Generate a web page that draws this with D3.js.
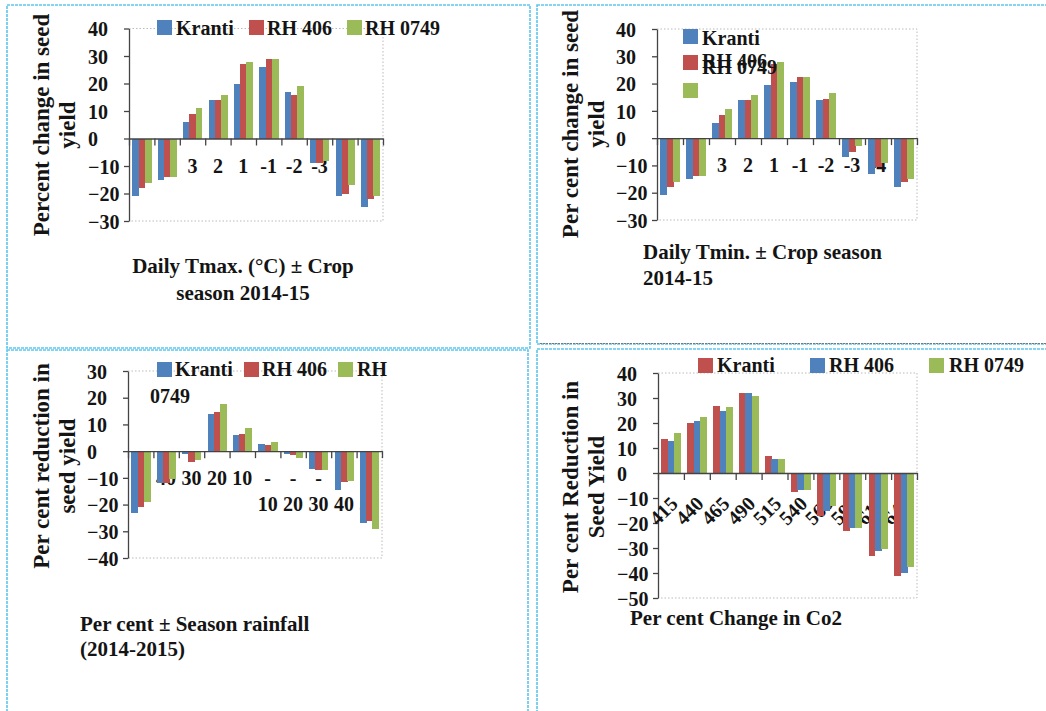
<!DOCTYPE html>
<html lang="en">
<head>
    <meta charset="UTF-8">
    <title>Per cent change in seed yield</title>
    <script src="https://d3js.org/d3.v7.min.js"></script>
    <style>
        body { margin: 0; background: #fff; }
        svg { display: block; }
        text { font-family: "Liberation Serif", "Times New Roman", serif; font-weight: bold; fill: #141414; }
        .axis path, .axis line { stroke: #444; stroke-width: 1.3px; }
        .bar { shape-rendering: crispEdges; }
    </style>
</head>
<body>
<svg width="1046" height="711"></svg>
<script>
    // ---- data ----
    const series3 = ["Kranti", "RH 406", "RH 0749"];

    const tempCats = ["5", "4", "3", "2", "1", "-1", "-2", "-3", "-4", "-5"];
    const tmaxKranti = [-21, -15, 6, 14, 20, 26, 17, -9, -21, -25];
    const tmaxRH406  = [-18, -14, 9, 14, 27, 29, 16, -9, -20, -22];
    const tmaxRH0749 = [-16, -14, 11, 16, 28, 29, 19, -8, -17, -21];

    const tminKranti = [-21, -15, 5.5, 14, 19.5, 20.5, 14, -7, -13, -18];
    const tminRH406  = [-18, -14, 8.5, 14, 27, 22.5, 14.5, -5, -10.5, -16];
    const tminRH0749 = [-16, -14, 10.7, 15.7, 27.8, 22.5, 16.7, -3, -9, -15];

    const rainCats = ["50", "40", "30", "20", "10", "-10", "-20", "-30", "-40", "-50"];
    const rainKranti = [-23, -12, -1, 14, 6, 2.8, -1, -6.5, -14.6, -27];
    const rainRH406  = [-21, -12, -4, 14.5, 6.3, 2.3, -1.6, -7.1, -11.6, -26];
    const rainRH0749 = [-19, -10.5, -3.5, 17.5, 8.8, 3.5, -2.5, -6.9, -11, -29];

    const co2Cats = ["415", "440", "465", "490", "515", "540", "565", "590", "615", "640"];
    const co2Kranti = [13.7, 20, 27, 32, 7, -7.6, -17.3, -23, -33.3, -41];
    const co2RH406  = [12.9, 21, 25, 32, 5.7, -6.9, -15, -22, -31.3, -40];
    const co2RH0749 = [16, 22.3, 26.3, 31, 5.7, -6.9, -13, -22, -30.3, -37.7];

    const blue = "#4f81bd", red = "#c0504d", green = "#9bbb59";

    const svg = d3.select("svg");

    // panel frames (dotted light blue)
    const frames = [
        { x: 7, y: 5, w: 523, h: 343 },
        { x: 537, y: 5, w: 520, h: 339 },
        { x: 7, y: 350, w: 521, h: 370 },
        { x: 537, y: 349, w: 520, h: 370 }
    ];
    svg.selectAll("rect.frame")
        .data(frames)
        .enter().append("rect")
        .attr("class", "frame")
        .attr("x", d => d.x).attr("y", d => d.y)
        .attr("width", d => d.w).attr("height", d => d.h)
        .attr("fill", "none")
        .attr("stroke", "#5cc6ee")
        .attr("stroke-width", 1.6)
        .attr("stroke-dasharray", "3,1");
    svg.append("line")
        .attr("x1", 540).attr("x2", 1046).attr("y1", 343.5).attr("y2", 343.5)
        .attr("stroke", "#777").attr("stroke-dasharray", "2,1");

    const panels = [
        {
            cats: tempCats, values: [tmaxKranti, tmaxRH406, tmaxRH0749], colors: [blue, red, green],
            left: 129, right: 383, yDomain: [-30, 40], yRange: [221, 28.5],
            legend: { sq: [[157, 20], [249, 20], [347, 20]], tx: [[176, 35], [267, 35], [365, 35]], names: series3 },
            yTitle: { lines: ["Percent change in seed", "yield"], xs: [49, 75], cy: 125 },
            xTitle: { lines: ["Daily Tmax. (°C) ± Crop", "season 2014-15"], x: 243, anchor: "middle", ys: [273, 300] }
        },
        {
            cats: tempCats, values: [tminKranti, tminRH406, tminRH0749], colors: [blue, red, green],
            left: 657, right: 917, yDomain: [-30, 40], yRange: [220, 29],
            legend: { sq: [[683, 29], [683, 55], [683, 83]], tx: [[702, 45], [702, 68], [702, 74]], names: series3 },
            yTitle: { lines: ["Per cent change in seed", "yield"], xs: [578, 604], cy: 124 },
            xTitle: { lines: ["Daily Tmin. ± Crop season", "2014-15"], x: 643, anchor: "start", ys: [259, 285] }
        },
        {
            cats: rainCats, values: [rainKranti, rainRH406, rainRH0749], colors: [blue, red, green],
            left: 128, right: 382, yDomain: [-40, 30], yRange: [558, 371], wrapNeg: true,
            legend: { sq: [[157, 362], [244, 362], [338, 362]], tx: [[175, 376], [262, 376], [357, 376]],
                      names: ["Kranti", "RH 406", "RH"], extra: { text: "0749", x: 150, y: 403 } },
            yTitle: { lines: ["Per cent reduction in", "seed yield"], xs: [49, 75], cy: 466 },
            xTitle: { lines: ["Per cent ± Season rainfall", "(2014-2015)"], x: 80, anchor: "start", ys: [631, 656] }
        },
        {
            cats: co2Cats, values: [co2Kranti, co2RH406, co2RH0749], colors: [red, blue, green],
            left: 658, right: 917, yDomain: [-50, 40], yRange: [598, 373], rotate: true,
            legend: { sq: [[698, 358], [810, 358], [929, 358]], tx: [[717, 372], [829, 372], [949, 372]], names: series3 },
            yTitle: { lines: ["Per cent Reduction in", "Seed Yield"], xs: [578, 604], cy: 487 },
            xTitle: { lines: ["Per cent Change in Co2"], x: 630, anchor: "start", ys: [625] }
        }
    ];

    panels.forEach(drawPanel);

    function drawPanel(p) {
        const g = svg.append("g");

        const x0 = d3.scaleBand().domain(p.cats).range([p.left, p.right]);
        const x1 = d3.scaleBand().domain(d3.range(3)).range([0, x0.bandwidth()]).paddingOuter(0.53);
        const y = d3.scaleLinear().domain(p.yDomain).range(p.yRange);
        const top = y(p.yDomain[1]), bottom = y(p.yDomain[0]), zero = y(0);

        // plot area border (dotted grey)
        g.append("path")
            .attr("d", `M${p.left},${top}H${p.right}V${bottom}H${p.left}`)
            .attr("fill", "none")
            .attr("stroke", "#bbb")
            .attr("stroke-dasharray", "1.5,2");

        // y axis
        const yAxis = g.append("g")
            .attr("class", "axis")
            .attr("transform", `translate(${p.left},0)`)
            .call(d3.axisLeft(y).tickValues(d3.range(p.yDomain[0], p.yDomain[1] + 1, 10)).tickSize(5).tickSizeOuter(0));
        yAxis.selectAll("text")
            .attr("x", -41)
            .attr("dy", "0.36em")
            .attr("text-anchor", "start")
            .style("font-size", "20px");

        // category labels (drawn under the bars, as in the original)
        const lab = g.selectAll("text.cat")
            .data(p.cats)
            .enter().append("text")
            .attr("class", "cat")
            .style("font-size", "20px");
        if (p.rotate) {
            lab.attr("text-anchor", "end")
                .attr("transform", d => `translate(${x0(d) + x0.bandwidth() / 2 + 8},${zero + 32}) rotate(-45)`)
                .text(d => d);
        } else {
            lab.attr("text-anchor", "middle")
                .attr("x", d => x0(d) + x0.bandwidth() / 2)
                .attr("y", zero + 34)
                .each(function (d) {
                    const t = d3.select(this);
                    if (p.wrapNeg && d.startsWith("-")) {
                        t.append("tspan").attr("x", x0(d) + x0.bandwidth() / 2).text("-");
                        t.append("tspan").attr("x", x0(d) + x0.bandwidth() / 2).attr("dy", 26).text(d.slice(1));
                    } else {
                        t.text(d);
                    }
                });
        }

        // bars
        p.values.forEach((vals, s) => {
            g.selectAll(null)
                .data(vals)
                .enter().append("rect")
                .attr("class", "bar")
                .attr("x", (v, i) => x0(p.cats[i]) + x1(s))
                .attr("width", x1.bandwidth() + 0.5)
                .attr("y", v => y(Math.max(0, v)))
                .attr("height", v => Math.abs(y(v) - y(0)))
                .attr("fill", p.colors[s]);
        });

        // zero line with group ticks
        const edge = d3.scaleLinear().domain([0, p.cats.length]).range([p.left, p.right]);
        g.append("g")
            .attr("class", "axis")
            .attr("transform", `translate(0,${zero})`)
            .call(d3.axisBottom(edge).tickValues(d3.range(0, p.cats.length + 1)).tickSize(7).tickSizeOuter(0).tickFormat(""));

        // legend
        const L = p.legend;
        L.names.forEach((n, i) => {
            g.append("rect")
                .attr("x", L.sq[i][0]).attr("y", L.sq[i][1])
                .attr("width", 15).attr("height", 15)
                .attr("fill", p.colors[i]);
            g.append("text")
                .attr("x", L.tx[i][0]).attr("y", L.tx[i][1])
                .style("font-size", "20px")
                .text(n);
        });
        if (L.extra) {
            g.append("text")
                .attr("x", L.extra.x).attr("y", L.extra.y)
                .style("font-size", "20px")
                .text(L.extra.text);
        }

        // y title (rotated, two lines)
        p.yTitle.lines.forEach((line, i) => {
            g.append("text")
                .attr("transform", `translate(${p.yTitle.xs[i]},${p.yTitle.cy}) rotate(-90)`)
                .attr("text-anchor", "middle")
                .style("font-size", "23px")
                .text(line);
        });

        // x title
        p.xTitle.lines.forEach((line, i) => {
            g.append("text")
                .attr("x", p.xTitle.x)
                .attr("y", p.xTitle.ys[i])
                .attr("text-anchor", p.xTitle.anchor)
                .style("font-size", "21px")
                .text(line);
        });
    }
</script>
</body>
</html>
